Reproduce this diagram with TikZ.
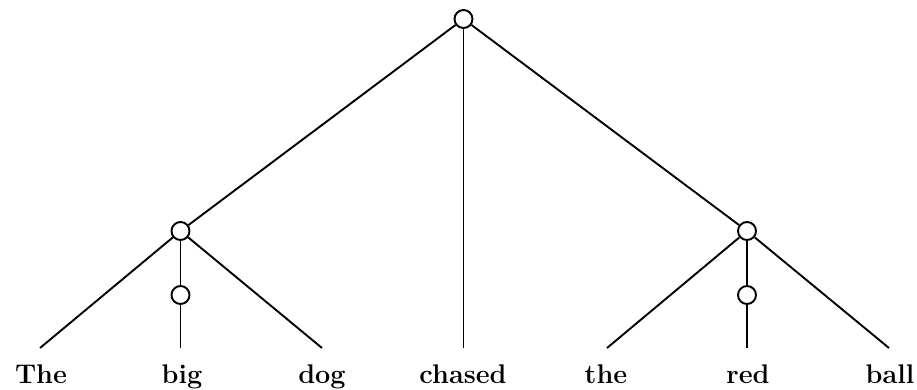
\documentclass[tikz,border=0pt]{standalone}
\usepackage{fontspec}
\begin{document}
\begin{tikzpicture}[x=1pt,y=-1pt,
  knot/.style={circle,draw,line width=1.9pt,minimum size=18pt,inner sep=0pt,fill=white},
  word/.style={anchor=base,inner sep=0pt,font=\fontsize{27}{31}\selectfont\bfseries},
  branch/.style={line width=1.9pt}]
\useasboundingbox (0,0) rectangle (917,389);
% internal nodes
\node[knot] (s)  at (463.5,19) {};
\node[knot] (np1) at (180.5,231) {};
\node[knot] (a1) at (180.5,295) {};
\node[knot] (np2) at (747,231) {};
\node[knot] (a2) at (747,295) {};
% leaf ends
\coordinate (eThe) at (40,348);
\coordinate (ebig) at (180.5,348);
\coordinate (edog) at (322,348);
\coordinate (echased) at (463.5,348);
\coordinate (ethe) at (607,348);
\coordinate (ered) at (747,348);
\coordinate (eball) at (889,348);
% words
\node[word] (wThe) at (41,383) {The};
\node[word] (wbig) at (182,383) {big};
\node[word] (wdog) at (322,383) {dog};
\node[word] (wchased) at (463,383) {chased};
\node[word] (wthe) at (606,383) {the};
\node[word] (wred) at (748,383) {red};
\node[word] (wball) at (890,383) {ball};
% branches
\draw[branch] (s) -- (np1);
\draw[branch] (s) -- (echased);
\draw[branch] (s) -- (np2);
\draw[branch] (np1) -- (eThe);
\draw[branch] (np1) -- (a1);
\draw[branch] (a1) -- (ebig);
\draw[branch] (np1) -- (edog);
\draw[branch] (np2) -- (ethe);
\draw[branch] (np2) -- (a2);
\draw[branch] (a2) -- (ered);
\draw[branch] (np2) -- (eball);
\end{tikzpicture}
\end{document}
